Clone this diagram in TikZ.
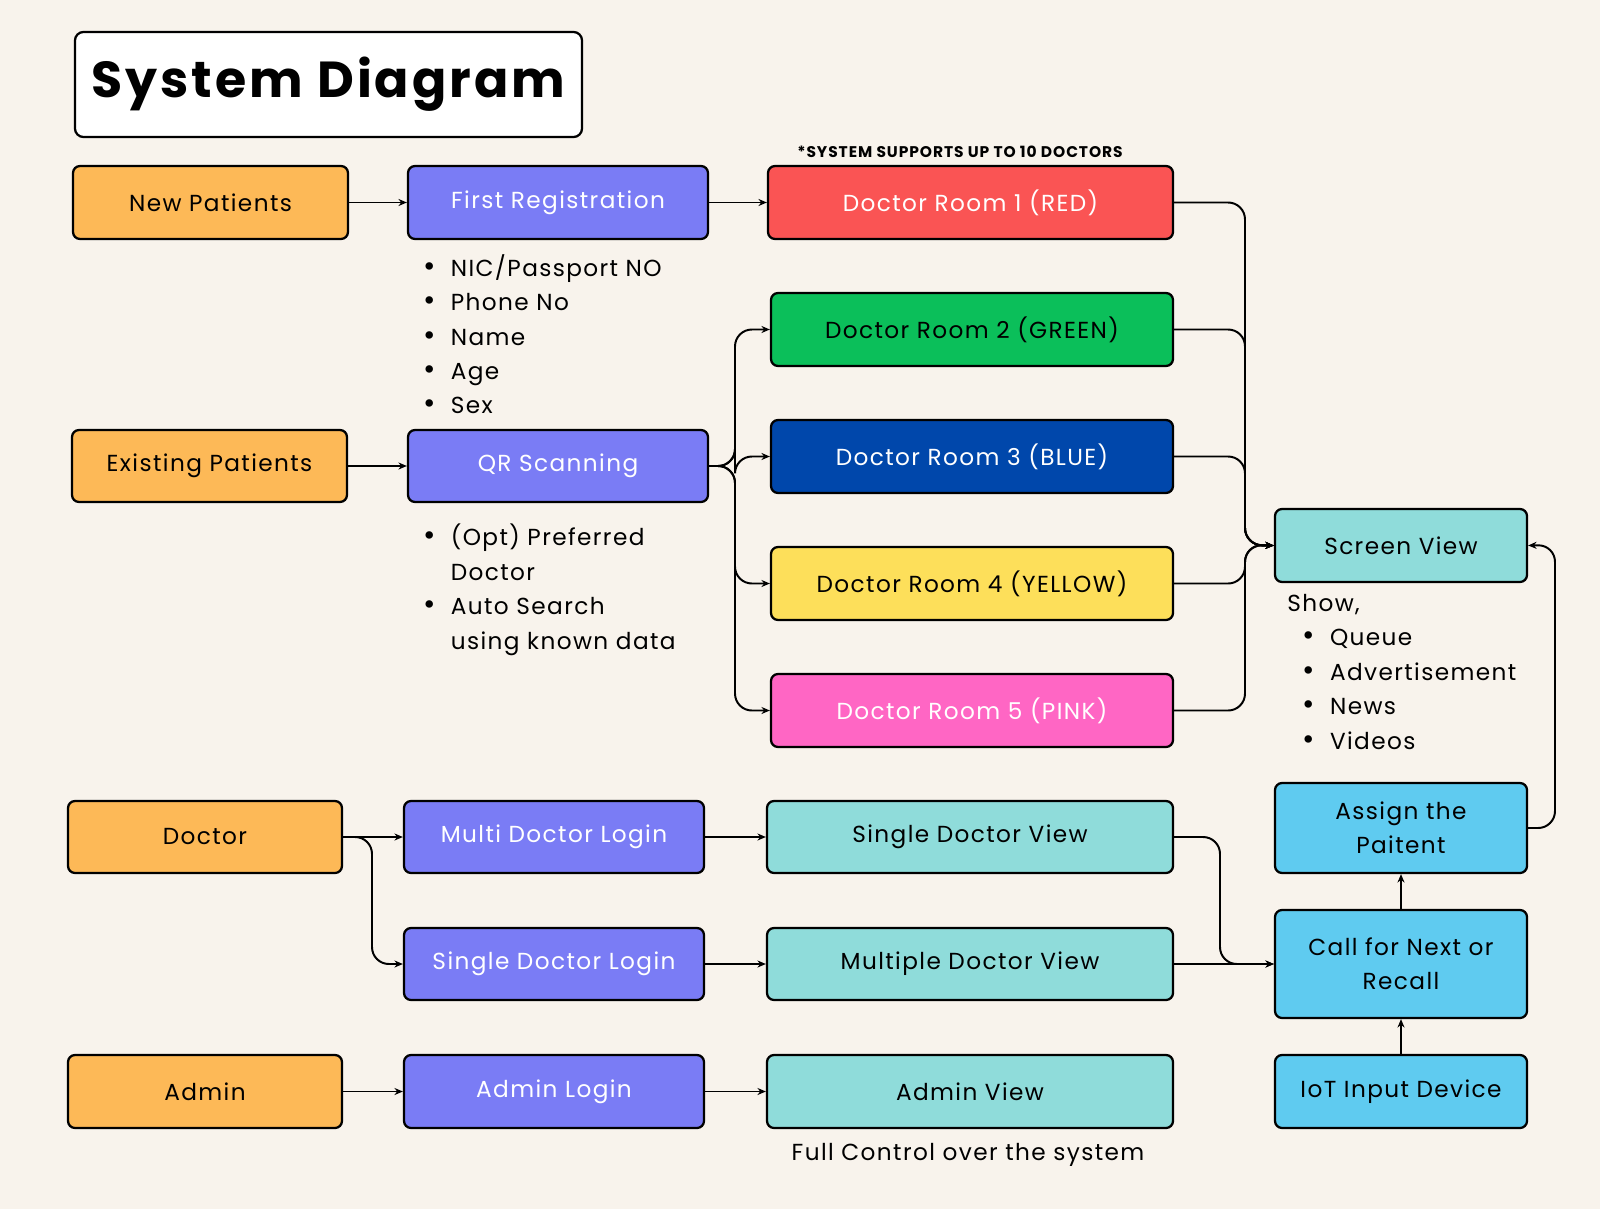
\documentclass[tikz,border=0pt]{standalone}
\usepackage{fontspec}
\setmainfont{Poppins}[LetterSpace=6]
\usetikzlibrary{arrows.meta}
\definecolor{bg}{HTML}{F8F3EC}
\definecolor{org}{HTML}{FDB957}
\definecolor{pur}{HTML}{7A7CF5}
\definecolor{rred}{HTML}{FA5454}
\definecolor{rgreen}{HTML}{0BBF5A}
\definecolor{rblue}{HTML}{0047AB}
\definecolor{ryel}{HTML}{FDDF5A}
\definecolor{rpink}{HTML}{FF66C4}
\definecolor{teal}{HTML}{8FDCDA}
\definecolor{sky}{HTML}{5FCBF0}
\newcommand{\bul}{\scalebox{1.3}{\textbullet}\ \ }
\tikzset{
 box/.style={draw=black,line width=1.6pt,rounded corners=5pt,font=\fontsize{16.5}{24.5}\selectfont,align=center,inner sep=0pt},
 lst/.style={font=\fontsize{16.5}{24.5}\selectfont,align=left,anchor=north west,inner sep=0pt},
 arr/.style={line width=1.4pt,-{Stealth[length=6pt,width=5pt]},rounded corners=12pt},
}
\newcommand{\bx}[8]{% name, x1,y1,x2,y2, fill, textcolor, text
 \node[box,fill=#6,text=#7,minimum width={(#4-#2)*0.025cm},minimum height={(#5-#3)*0.025cm}] (#1) at ({(#2+#4)/2},{(#3+#5)/2}) {#8};}
\begin{document}
\begin{tikzpicture}[x=0.025cm,y=-0.025cm]
\fill[bg] (0,0) rectangle (1600,1209);
\useasboundingbox (0,0) rectangle (1600,1209);
\node[draw,line width=1.6pt,fill=white,rounded corners=6pt,minimum width=507*0.025cm,minimum height=105*0.025cm,font=\fontsize{36}{40}\selectfont\bfseries] (title) at (328.5,84.5) {System Diagram};
\bx{np}{73}{166}{348}{239}{org}{black}{New Patients}
\bx{fr}{408}{166}{708}{239}{pur}{white}{First Registration}
\bx{r1}{768}{166}{1173}{239}{rred}{white}{Doctor Room 1 (RED)}
\node[font=\fontsize{11}{13}\selectfont\bfseries,inner sep=0pt] (note) at (960,152) {*SYSTEM SUPPORTS UP TO 10 DOCTORS};
\node[lst] (l1) at (423,254) {\bul NIC/Passport NO\\ \bul Phone No\\ \bul Name\\ \bul Age\\ \bul Sex};
\bx{ep}{72}{430}{347}{502}{org}{black}{Existing Patients}
\bx{qr}{408}{430}{708}{502}{pur}{white}{QR Scanning}
\bx{r2}{771}{293}{1173}{366}{rgreen}{black}{Doctor Room 2 (GREEN)}
\bx{r3}{771}{420}{1173}{493}{rblue}{white}{Doctor Room 3 (BLUE)}
\bx{r4}{771}{547}{1173}{620}{ryel}{black}{Doctor Room 4 (YELLOW)}
\bx{r5}{771}{674}{1173}{747}{rpink}{white}{Doctor Room 5 (PINK)}
\node[lst] (l2) at (423,524) {\bul (Opt) Preferred\\ \phantom{\bul}Doctor\\ \bul Auto Search\\ \phantom{\bul}using known data};
\bx{sv}{1275}{509}{1527}{582}{teal}{black}{Screen View}
\node[lst] (l3) at (1287,594) {Show,\\ \ \ \bul Queue\\ \ \ \bul Advertisement\\ \ \ \bul News\\ \ \ \bul Videos};
\bx{as}{1275}{783}{1527}{873}{sky}{black}{Assign the\\Paitent}
\bx{cn}{1275}{910}{1527}{1018}{sky}{black}{Call for Next or\\Recall}
\bx{iot}{1275}{1055}{1527}{1128}{sky}{black}{IoT Input Device}
\bx{doc}{68}{801}{342}{873}{org}{black}{Doctor}
\bx{mdl}{404}{801}{704}{873}{pur}{white}{Multi Doctor Login}
\bx{sdv}{767}{801}{1173}{873}{teal}{black}{Single Doctor View}
\bx{sdl}{404}{928}{704}{1000}{pur}{white}{Single Doctor Login}
\bx{mdv}{767}{928}{1173}{1000}{teal}{black}{Multiple Doctor View}
\bx{adm}{68}{1055}{342}{1128}{org}{black}{Admin}
\bx{al}{404}{1055}{704}{1128}{pur}{white}{Admin Login}
\bx{av}{767}{1055}{1173}{1128}{teal}{black}{Admin View}
\node[font=\fontsize{16.5}{18}\selectfont,inner sep=0pt] (fc) at (968,1155) {Full Control over the system};
% arrows
\draw[arr] (np) -- (fr);
\draw[arr] (fr) -- (r1);
\draw[arr] (ep) -- (qr);
\foreach \r in {r2,r3,r4,r5} \draw[arr] (qr.east) -- (735,466) |- (\r.west);
\foreach \r in {r1,r2,r3,r4,r5} \draw[arr] (\r.east) -| (1245,545) -- (sv.west);
\draw[arr] (doc) -- (mdl);
\draw[arr] (doc.east) -- (372,837) |- (sdl.west);
\draw[arr] (mdl) -- (sdv);
\draw[arr] (sdl) -- (mdv);
\draw[arr] (adm) -- (al);
\draw[arr] (al) -- (av);
\draw[arr] (sdv.east) -| (1220,964) -- (cn.west);
\draw[arr] (mdv) -- (cn);
\draw[arr] (iot) -- (cn);
\draw[arr] (cn) -- (as);
\draw[arr] (as.east) -| (1555,545) -- (sv.east);
\end{tikzpicture}
\end{document}
